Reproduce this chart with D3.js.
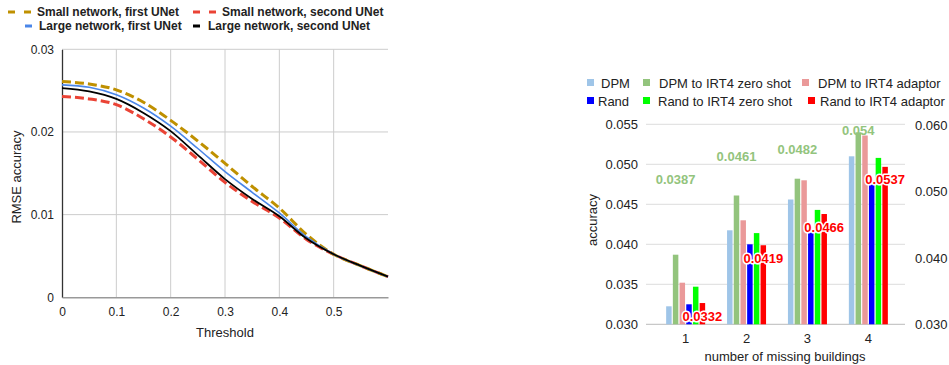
<!DOCTYPE html>
<html>
<head>
<meta charset="utf-8">
<script src="https://cdn.jsdelivr.net/npm/d3@7"></script>
<style>
  body { margin: 0; background: #fff; }
  svg { display: block; font-family: "Liberation Sans", Arial, sans-serif; }
</style>
</head>
<body>
<svg id="chart" width="949" height="365"></svg>
<script>
// ---- left chart data: RMSE vs threshold
const thresholds = [0, 0.05, 0.1, 0.15, 0.2, 0.25, 0.3, 0.35, 0.4, 0.45, 0.5, 0.55, 0.6];
const smallFirst  = [0.0261, 0.0258, 0.0251, 0.0236, 0.0214, 0.0189, 0.0162, 0.0134, 0.0108, 0.0076, 0.0052, 0.0038, 0.0025];
const smallSecond = [0.0243, 0.0240, 0.0233, 0.0216, 0.0194, 0.0167, 0.0139, 0.0116, 0.0096, 0.0070, 0.0052, 0.0038, 0.0025];
const largeFirst  = [0.0257, 0.0254, 0.0245, 0.0229, 0.0207, 0.0180, 0.0152, 0.0127, 0.0102, 0.0073, 0.0052, 0.0038, 0.0025];
const largeSecond = [0.0253, 0.0249, 0.0240, 0.0223, 0.0201, 0.0172, 0.0143, 0.0119, 0.0098, 0.0071, 0.0052, 0.0038, 0.0025];
const lineNames = ['Small network, first UNet', 'Small network, second UNet', 'Large network, first UNet', 'Large network, second UNet'];
const xTicksL = [0, 0.1, 0.2, 0.3, 0.4, 0.5];
const yTicksL = [0, 0.01, 0.02, 0.03];

// ---- right chart data: accuracy vs missing buildings
const buildings = ['1', '2', '3', '4'];
const seriesNames = ['DPM', 'DPM to IRT4 zero shot', 'DPM to IRT4 adaptor', 'Rand', 'Rand to IRT4 zero shot', 'Rand to IRT4 adaptor'];
const dpm        = [0.03225, 0.04175, 0.0456, 0.0510];
const dpmZero    = [0.0387, 0.0461, 0.0482, 0.054];
const dpmAdapt   = [0.0352, 0.0430, 0.0480, 0.0536];
const rand       = [0.0325, 0.0400, 0.0417, 0.0478];
const randZero   = [0.0347, 0.0414, 0.0443, 0.0508];
const randAdapt  = [0.0332, 0.0419, 0.0466, 0.0537]; // plotted on right axis
const yTicksR    = [0.030, 0.035, 0.040, 0.045, 0.050, 0.055];
const yTicksR2   = [0.030, 0.040, 0.050, 0.060];

const svg = d3.select('#chart');

// ================= LEFT CHART =================
const x = d3.scaleLinear().domain([0, 0.6]).range([62, 388]);
const y = d3.scaleLinear().domain([0, 0.03]).range([297.3, 49.3]);

const left = svg.append('g');
left.append('g').selectAll('line.h').data(yTicksL.slice(1)).join('line')
  .attr('x1', x(0)).attr('x2', x(0.6))
  .attr('y1', d => y(d)).attr('y2', d => y(d))
  .attr('stroke', '#cccccc').attr('stroke-width', 1);
left.append('g').selectAll('line.v').data(xTicksL.slice(1)).join('line')
  .attr('x1', d => x(d)).attr('x2', d => x(d))
  .attr('y1', y(0)).attr('y2', y(0.03))
  .attr('stroke', '#cccccc').attr('stroke-width', 1);

// axes
const axL = left.append('g').attr('transform', `translate(${x(0)},0)`)
  .call(d3.axisLeft(y).tickValues(yTicksL).tickFormat(d => d === 0 ? '0' : d3.format('.2f')(d)).tickSize(0).tickPadding(8));
axL.select('.domain').attr('stroke', '#333').attr('stroke-width', 1.3);
const axB = left.append('g').attr('transform', `translate(0,${y(0)})`)
  .call(d3.axisBottom(x).tickValues(xTicksL).tickFormat(d => d === 0 ? '0' : d3.format('.1f')(d)).tickSize(0).tickPadding(10));
axB.select('.domain').attr('stroke', '#999').attr('stroke-width', 1.5);
left.selectAll('.tick text').attr('font-size', 12).attr('fill', '#222').attr('font-family', '"Liberation Sans", Arial, sans-serif');

left.append('text').attr('x', 225).attr('y', 337).attr('text-anchor', 'middle')
  .attr('font-size', 13).attr('fill', '#222').text('Threshold');
left.append('text').attr('transform', 'translate(21,177) rotate(-90)').attr('text-anchor', 'middle')
  .attr('font-size', 13).attr('fill', '#222').text('RMSE accuracy');

const lineStyles = [
  { data: smallFirst,  color: '#bf9000', width: 3,   dash: '9,4' },
  { data: smallSecond, color: '#ea4335', width: 3,   dash: '9,4' },
  { data: largeFirst,  color: '#4a86e8', width: 1.6, dash: null },
  { data: largeSecond, color: '#000000', width: 1.8, dash: null }
];
const line = d3.line().x((d, i) => x(thresholds[i])).y(d => y(d)).curve(d3.curveMonotoneX);
// draw order: large first, then dashed small on top for gold, red beneath black
[1, 0, 2, 3].forEach(k => {
  const s = lineStyles[k];
  left.append('path').datum(s.data)
    .attr('d', line).attr('fill', 'none')
    .attr('stroke', s.color).attr('stroke-width', s.width)
    .attr('stroke-dasharray', s.dash);
});

// legend (two rows)
const legL = [
  { sx: 8,   ty: 12, tx: 37 },
  { sx: 193, ty: 12, tx: 222 },
  { sx: 25,  ty: 26, tx: 39 },
  { sx: 193, ty: 26, tx: 208 }
];
legL.forEach((p, k) => {
  const s = lineStyles[k];
  if (s.dash) {
    [0, 16].forEach(o => left.append('line')
      .attr('x1', p.sx + o).attr('x2', p.sx + o + 7).attr('y1', p.ty).attr('y2', p.ty)
      .attr('stroke', s.color).attr('stroke-width', 3));
  } else {
    left.append('line').attr('x1', p.sx).attr('x2', p.sx + 7).attr('y1', p.ty).attr('y2', p.ty)
      .attr('stroke', s.color).attr('stroke-width', 3);
  }
  left.append('text').attr('x', p.tx).attr('y', p.ty).attr('dy', '0.35em')
    .attr('font-size', 12).attr('font-weight', 'bold').attr('fill', '#222').text(lineNames[k]);
});

// ================= RIGHT CHART =================
const yR = d3.scaleLinear().domain([0.030, 0.055]).range([324.3, 124.3]);
const yR2 = d3.scaleLinear().domain([0.030, 0.060]).range([324.3, 125]);
// data labels for the zero-shot series sit on a compressed scale
const yLab = d3.scaleLinear().domain([0.030, 0.060]).range([207.5, 111.5]);
const xR = d3.scaleBand().domain(buildings).range([655.2, 898.8]);
const colors = ['#9fc5e8', '#93c47d', '#ea9999', '#0000ff', '#00ff00', '#ff0000'];
const allSeries = [dpm, dpmZero, dpmAdapt, rand, randZero, randAdapt];
const xs = d3.scaleBand().domain(d3.range(6)).range([-19.5, 19.5]).paddingInner(0.18);

const right = svg.append('g');
right.append('g').selectAll('line').data(yTicksR).join('line')
  .attr('x1', 646).attr('x2', 905)
  .attr('y1', d => yR(d)).attr('y2', d => yR(d))
  .attr('stroke', d => d === 0.030 ? '#bbbbbb' : '#dddddd').attr('stroke-width', 1);

const axR = right.append('g').attr('transform', 'translate(646,0)')
  .call(d3.axisLeft(yR).tickValues(yTicksR).tickFormat(d3.format('.3f')).tickSize(0).tickPadding(8));
axR.select('.domain').remove();
const axR2 = right.append('g').attr('transform', 'translate(905,0)')
  .call(d3.axisRight(yR2).tickValues(yTicksR2).tickFormat(d3.format('.3f')).tickSize(0).tickPadding(10));
axR2.select('.domain').remove();
const axX = right.append('g').attr('transform', `translate(0,${yR(0.030)})`)
  .call(d3.axisBottom(xR).tickSize(0).tickPadding(9));
axX.select('.domain').remove();
right.selectAll('.tick text').attr('font-size', 13).attr('fill', '#222').attr('font-family', '"Liberation Sans", Arial, sans-serif');

allSeries.forEach((vals, k) => {
  const ys = k === 5 ? yR2 : yR;
  right.append('g').selectAll('rect').data(vals).join('rect')
    .attr('x', (d, i) => xR(buildings[i]) + xR.bandwidth() / 2 + xs(k))
    .attr('width', xs.bandwidth())
    .attr('y', d => ys(d))
    .attr('height', d => ys(0.030) - ys(d))
    .attr('fill', colors[k]);
});

// green labels
right.append('g').selectAll('text').data(dpmZero).join('text')
  .attr('x', (d, i) => xR(buildings[i]) + xR.bandwidth() / 2 + xs(1) + xs.bandwidth() / 2)
  .attr('y', d => yLab(d)).attr('dy', '0.35em').attr('text-anchor', 'middle')
  .attr('font-size', 13).attr('font-weight', 'bold').attr('fill', '#93c47d')
  .text(d => d);
// red labels inside top of bars
right.append('g').selectAll('text').data(randAdapt).join('text')
  .attr('x', (d, i) => xR(buildings[i]) + xR.bandwidth() / 2 + xs(5) + xs.bandwidth() / 2)
  .attr('y', d => yR2(d) + 13).attr('dy', '0.35em').attr('text-anchor', 'middle')
  .attr('font-size', 13).attr('font-weight', 'bold').attr('fill', '#ff0000')
  .attr('stroke', '#fff').attr('stroke-width', 3).attr('paint-order', 'stroke').attr('stroke-linejoin', 'round')
  .text(d => d);

right.append('text').attr('x', 785).attr('y', 361).attr('text-anchor', 'middle')
  .attr('font-size', 13).attr('fill', '#222').text('number of missing buildings');
right.append('text').attr('transform', 'translate(597,220) rotate(-90)').attr('text-anchor', 'middle')
  .attr('font-size', 13).attr('fill', '#222').text('accuracy');

// legend
const legR = [
  { sx: 587, tx: 601, ty: 83 },
  { sx: 643, tx: 659, ty: 83 },
  { sx: 802, tx: 818, ty: 83 },
  { sx: 587, tx: 598, ty: 101 },
  { sx: 643, tx: 658, ty: 101 },
  { sx: 808, tx: 820, ty: 101 }
];
legR.forEach((p, k) => {
  right.append('rect').attr('x', p.sx).attr('y', p.ty - 4).attr('width', 7).attr('height', 7).attr('fill', colors[k]);
  right.append('text').attr('x', p.tx).attr('y', p.ty).attr('dy', '0.35em')
    .attr('font-size', 13).attr('fill', '#222').text(seriesNames[k]);
});
</script>
</body>
</html>
